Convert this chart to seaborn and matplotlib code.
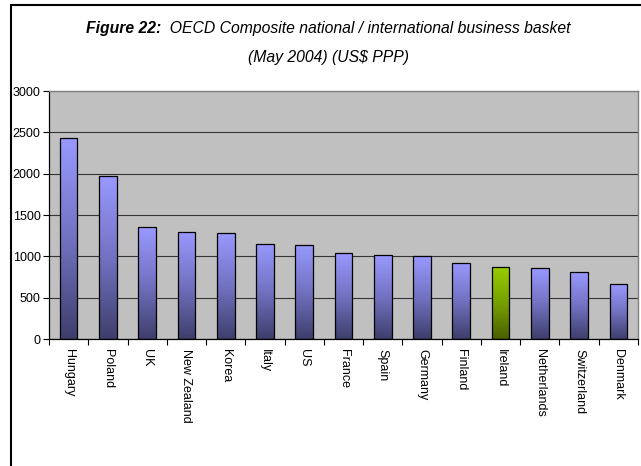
import matplotlib
matplotlib.use("Agg")
import matplotlib.pyplot as plt
import seaborn as sns
import numpy as np
import pandas as pd
from matplotlib import font_manager
from matplotlib.lines import Line2D
from matplotlib.colors import LinearSegmentedColormap

# ---- data -------------------------------------------------------------
countries = ["Hungary", "Poland", "UK", "New Zealand", "Korea", "Italy", "US",
             "France", "Spain", "Germany", "Finland", "Ireland", "Netherlands",
             "Switzerland", "Denmark"]
basket_usd_ppp = [2430, 1970, 1350, 1295, 1280, 1155, 1140,
                  1035, 1015, 1000, 925, 870, 855, 805, 665]
highlight = "Ireland"
y_ticks = [0, 500, 1000, 1500, 2000, 2500, 3000]

title_bold = "Figure 22:"
title_rest = "  OECD Composite national / international business basket"
title_line2 = "(May 2004) (US$ PPP)"

# ---- style ------------------------------------------------------------
sns.set_theme(style="white")
plt.rcParams["font.family"] = ["Liberation Sans", "DejaVu Sans"]
plt.rcParams["text.color"] = "black"
installed = {f.name for f in font_manager.fontManager.ttflist}
title_family = ["Liberation Sans Narrow", "Liberation Sans"] if "Liberation Sans Narrow" in installed \
    else ["Liberation Sans"]

W, H = 641, 466
fig = plt.figure(figsize=(W / 100, H / 100), dpi=100)
fig.patch.set_facecolor("white")
ax = fig.add_axes([49 / W, 127 / H, 589 / W, 248 / H])

df = pd.DataFrame({"country": countries, "value": basket_usd_ppp})
sns.barplot(data=df, x="country", y="value", hue="country",
            palette=["#9999ff"] * len(countries), saturation=1,
            width=0.45, edgecolor="black", linewidth=0.9,
            legend=False, ax=ax)

# vertical gradient fill for each bar
blue_cmap = LinearSegmentedColormap.from_list("blue_bar", ["#3e3e6c", "#7272c2", "#9999ff"])
green_cmap = LinearSegmentedColormap.from_list("green_bar", ["#4a6000", "#76a000", "#99cc00"])
grad = np.linspace(1, 0, 256).reshape(-1, 1)
for country, container in zip(countries, ax.containers):
    for bar in container:
        x0, w, h = bar.get_x(), bar.get_width(), bar.get_height()
        cmap = green_cmap if country == highlight else blue_cmap
        im = ax.imshow(grad, extent=[x0, x0 + w, 0, h], aspect="auto",
                       cmap=cmap, vmin=0, vmax=1, zorder=bar.get_zorder() - 0.01,
                       interpolation="bilinear")
        im.set_clip_path(bar)
        bar.set_facecolor("none")

ax.set_xlim(-0.5, len(countries) - 0.5)
ax.set_ylim(0, 3000)
ax.set_facecolor("#c0c0c0")
ax.set_axisbelow(True)
ax.yaxis.grid(True, color="#333333", linewidth=0.8)
ax.xaxis.grid(False)
ax.set_xlabel("")
ax.set_ylabel("")

ax.set_yticks(y_ticks)
ax.set_yticklabels([str(v) for v in y_ticks], fontsize=9, color="black")
ax.tick_params(axis="y", left=True, direction="out", length=4, width=0.8,
               color="black", pad=2)

ax.set_xticks(range(len(countries)))
ax.set_xticklabels(countries, rotation=270, ha="center", va="top",
                   fontsize=9, color="black")
ax.tick_params(axis="x", which="major", bottom=True, length=0, pad=7)
ax.set_xticks(np.arange(-0.5, len(countries), 1), minor=True)
ax.tick_params(axis="x", which="minor", bottom=True, direction="out",
               length=4, width=0.8, color="black")

for side in ("left", "bottom"):
    ax.spines[side].set_color("black")
    ax.spines[side].set_linewidth(0.9)
for side in ("top", "right"):
    ax.spines[side].set_color("#808080")
    ax.spines[side].set_linewidth(1.0)

# ---- outer frame (left and top edges) ----------------------------------
fig.add_artist(Line2D([11 / W, 11 / W], [0, 1 - 4.5 / H], color="black",
                      linewidth=1.5, transform=fig.transFigure))
fig.add_artist(Line2D([11 / W, 1], [1 - 4.5 / H, 1 - 4.5 / H], color="black",
                      linewidth=1.5, transform=fig.transFigure))

# ---- two-line title with a bold lead-in --------------------------------
renderer = fig.canvas.get_renderer()
target_width = 485.0
fs = 14
t1 = fig.text(0, 1 - 33 / H, title_bold, fontsize=fs, fontweight="bold",
              fontstyle="italic", family=title_family, va="baseline", ha="left",
              color="black")
t2 = fig.text(0, 1 - 33 / H, title_rest, fontsize=fs, fontstyle="italic",
              family=title_family, va="baseline", ha="left", color="black")
total = t1.get_window_extent(renderer).width + t2.get_window_extent(renderer).width
fs = fs * target_width / total
t1.set_fontsize(fs)
t2.set_fontsize(fs)
w1 = t1.get_window_extent(renderer).width
w2 = t2.get_window_extent(renderer).width
x_start = 328 - (w1 + w2) / 2
t1.set_x(x_start / W)
t2.set_x((x_start + w1) / W)
fig.text(328 / W, 1 - 62 / H, title_line2, fontsize=fs, fontstyle="italic",
         family=title_family, va="baseline", ha="center", color="black")

fig.savefig("out.png", dpi=100, facecolor="white")
